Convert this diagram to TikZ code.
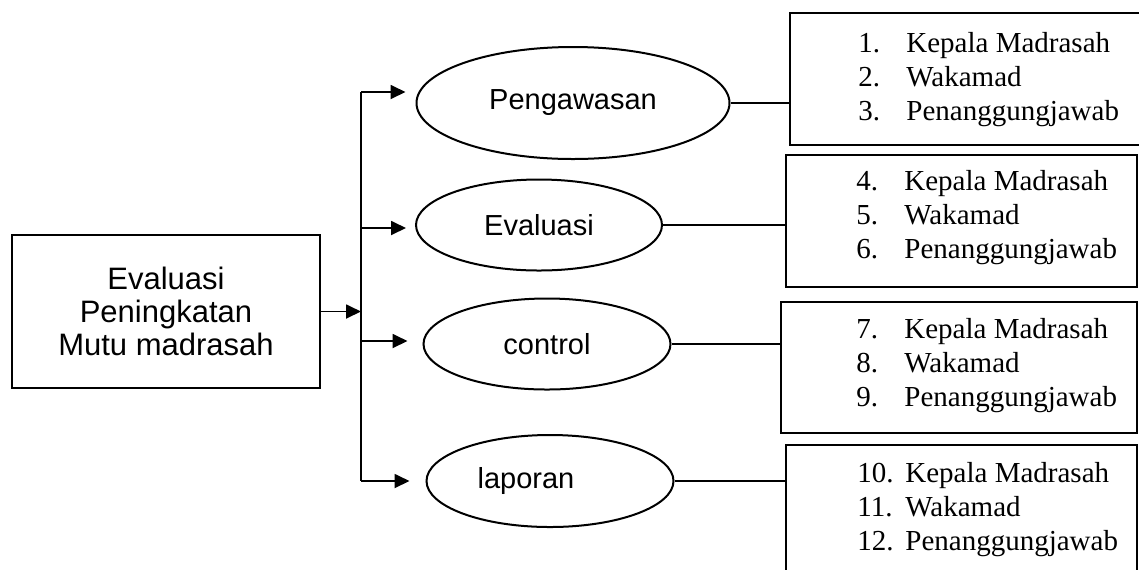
\documentclass[tikz,border=0pt]{standalone}
\usepackage{fontspec}
\setmainfont{Liberation Serif}
\setsansfont{Liberation Sans}
\usetikzlibrary{arrows.meta,shapes.geometric}

\begin{document}
\begin{tikzpicture}[x=0.5pt,y=-0.5pt, every node/.style={inner sep=0pt},
  kotak/.style={draw, line width=1.1pt, minimum width=154pt, minimum height=76.5pt,
    align=center, font=\sffamily\fontsize{15.5}{16.3}\selectfont},
  elips/.style={draw, ellipse, line width=1pt, font=\sffamily\fontsize{14.5}{17}\selectfont},
  timbox/.style={draw, line width=1.25pt},
  isi/.style={anchor=west, align=left, font=\fontsize{14.5}{17}\selectfont},
  panah/.style={-{Triangle[length=7.5pt,width=7pt]}, line width=0.9pt},
  garis/.style={line width=0.55pt}]
  \newcommand{\daftar}[3]{
    \makebox[24pt][l]{#1.}Kepala Madrasah\\
    \makebox[24pt][l]{#2.}Wakamad\\
    \makebox[24pt][l]{#3.}Penanggungjawab}
  \useasboundingbox (0,0) rectangle (1139,569);
  \clip (0,0) rectangle (1139,569);

  % kotak utama
  \node[kotak] (utama) at (166,311.5) {Evaluasi\\Peningkatan\\Mutu madrasah};

  % kegiatan
  \node[elips, minimum width=156.5pt, minimum height=56pt] (awas) at (573,103) {Pengawasan};
  \node[elips, minimum width=123pt, minimum height=45.5pt] (eval) at (539,225) {Evaluasi};
  \node[elips, minimum width=123.5pt, minimum height=45.5pt] (kontrol) at (547,344) {control};
  \node[elips, minimum width=123.5pt, minimum height=46pt] (lapor) at (550,481) {laporan\hspace*{24pt}};

  % pelaksana
  \node[timbox, minimum width=178.5pt, minimum height=66pt] (tim1) at (968.5,79) {};
  \node[timbox, minimum width=175.5pt, minimum height=66pt] (tim2) at (961.5,221) {};
  \node[timbox, minimum width=178pt, minimum height=65.5pt] (tim3) at (959,367.5) {};
  \node[timbox, minimum width=175.5pt, minimum height=67.5pt] (tim4) at (961.5,512.5) {};
  \node[isi] (isi1) at (858,80) {\daftar{1}{2}{3}};
  \node[isi] (isi2) at (856,218) {\daftar{4}{5}{6}};
  \node[isi] (isi3) at (856,366) {\daftar{7}{8}{9}};
  \node[isi] (isi4) at (857,510) {\daftar{10}{11}{12}};

  % cabang
  \coordinate (atas) at (361,92);
  \coordinate (bawah) at (361,481);
  \draw[line width=0.65pt] (atas) -- (bawah);
  \draw[panah] (utama.east) -- (utama.east -| atas);
  \foreach \nm/\y/\s in {awas/92/5, eval/228/4.5, kontrol/341/7.5, lapor/481/8} {
    \coordinate (c\nm) at (361,\y);
    \draw[panah, shorten >=\s pt] (c\nm) -- (c\nm -| \nm.west);
  }

  % garis ke pelaksana
  \draw[garis] (awas.east) -- (awas.east -| tim1.west);
  \draw[garis] (eval.east) -- (eval.east -| tim2.west);
  \draw[garis] (kontrol.east) -- (kontrol.east -| tim3.west);
  \draw[garis] (lapor.east) -- (lapor.east -| tim4.west);
\end{tikzpicture}
\end{document}
